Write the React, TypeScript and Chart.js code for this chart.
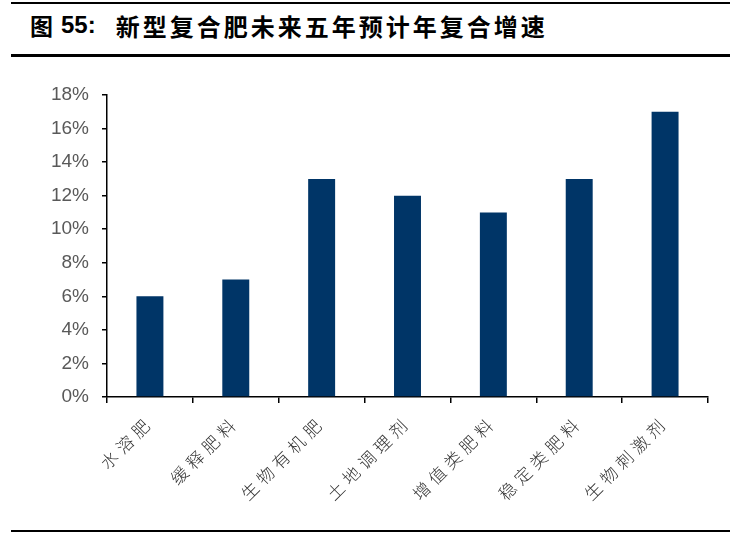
import { useEffect, useRef } from "react";
import { Chart, registerables } from "chart.js";

Chart.register(...registerables);

const categories = [
  "水溶肥",
  "缓释肥料",
  "生物有机肥",
  "土地调理剂",
  "增值类肥料",
  "稳定类肥料",
  "生物刺激剂",
];
const growth = [6, 7, 13, 12, 11, 13, 17];
const yTicks = [0, 2, 4, 6, 8, 10, 12, 14, 16, 18];

// canvas letterSpacing for the x labels only (drawn after the bars)
const spacingPlugin = {
  id: "labelSpacing",
  afterDatasetsDraw(chart: Chart) {
    (chart.ctx as any).letterSpacing = "5px";
  },
  afterDraw(chart: Chart) {
    (chart.ctx as any).letterSpacing = "0px";
  },
};

function GrowthChart() {
  const canvasRef = useRef<HTMLCanvasElement | null>(null);

  useEffect(() => {
    if (!canvasRef.current) return;
    const chart = new Chart(canvasRef.current, {
      type: "bar",
      data: {
        labels: categories,
        datasets: [
          {
            data: growth,
            backgroundColor: "#003567",
            barPercentage: 0.314,
            categoryPercentage: 1,
          },
        ],
      },
      options: {
        animation: false,
        responsive: true,
        maintainAspectRatio: false,
        layout: { padding: { top: 35, right: 28, bottom: 0, left: 0 } },
        plugins: { legend: { display: false }, tooltip: { enabled: false } },
        scales: {
          x: {
            grid: {
              offset: true,
              drawOnChartArea: false,
              tickLength: 6,
              color: "#000",
              lineWidth: 1.5,
            },
            border: { color: "#000", width: 1.5 },
            ticks: {
              z: 1,
              minRotation: 45,
              maxRotation: 45,
              padding: 9,
              color: "#333",
              font: { family: "'Noto Sans CJK SC'", size: 17, weight: 300 },
            },
            afterFit(scale: any) {
              scale.height = 133;
            },
          },
          y: {
            min: 0,
            max: 18,
            afterBuildTicks(scale: any) {
              scale.ticks = yTicks.map((v) => ({ value: v }));
            },
            grid: {
              drawOnChartArea: false,
              tickLength: 5,
              color: "#000",
              lineWidth: 1.5,
            },
            border: { color: "#000", width: 1.5 },
            ticks: {
              padding: 13,
              color: "#595959",
              font: { family: "'Liberation Sans', Arial", size: 19 },
              callback: (v: any) => v + "%",
            },
            afterFit(scale: any) {
              scale.width = 107;
            },
          },
        },
      },
      plugins: [spacingPlugin],
    });
    return () => chart.destroy();
  }, []);

  return <canvas ref={canvasRef} />;
}

export default function App() {
  return (
    <div
      style={{
        position: "fixed",
        left: 0,
        top: 0,
        width: 736,
        height: 534,
        background: "#fff",
        overflow: "hidden",
      }}
    >
      <div style={{ position: "absolute", left: 11, top: 2, width: 719, height: 2, background: "#000" }} />
      <div
        style={{
          position: "absolute",
          left: 30,
          top: 8,
          height: 34,
          display: "flex",
          alignItems: "center",
          whiteSpace: "nowrap",
          fontWeight: 700,
          color: "#000",
        }}
      >
        <span style={{ fontFamily: "'Noto Sans CJK SC'", fontSize: 23 }}>图</span>
        <span style={{ fontFamily: "'Liberation Sans', Arial", fontSize: 24, marginLeft: 8 }}>55:</span>
        <span
          style={{
            fontFamily: "'Noto Sans CJK SC'",
            fontSize: 24,
            letterSpacing: 3,
            marginLeft: 20,
          }}
        >
          新型复合肥未来五年预计年复合增速
        </span>
      </div>
      <div style={{ position: "absolute", left: 11, top: 54, width: 719, height: 3, background: "#000" }} />
      <div style={{ position: "absolute", left: 0, top: 60, width: 736, height: 470 }}>
        <GrowthChart />
      </div>
      <div style={{ position: "absolute", left: 11, top: 530, width: 719, height: 2, background: "#000" }} />
    </div>
  );
}
